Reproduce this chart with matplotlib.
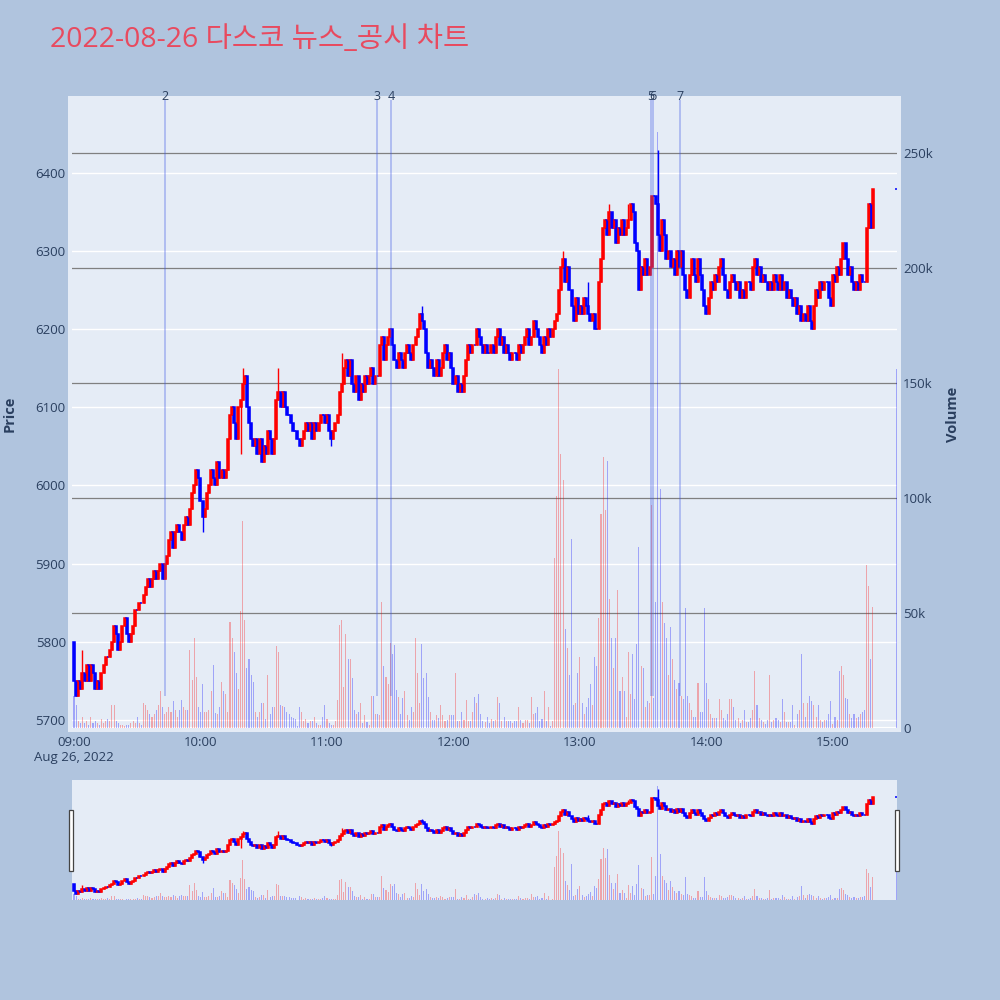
import matplotlib
matplotlib.use('Agg')
import matplotlib.pyplot as plt
from matplotlib.patches import Rectangle
from matplotlib.transforms import blended_transform_factory

plt.rcParams['font.family'] = ['Open Sans', 'Noto Sans CJK KR', 'DejaVu Sans']

title = '2022-08-26 다스코 뉴스_공시 차트'

# 1-minute closes from 09:00 to 15:19, ten minutes per row
first_open = 5800
close_rows = [
    [5750, 5730, 5750, 5740, 5760, 5750, 5770, 5750, 5770, 5760],
    [5740, 5750, 5740, 5760, 5770, 5780, 5780, 5790, 5800, 5820],
    [5810, 5790, 5800, 5820, 5830, 5810, 5800, 5810, 5820, 5840],
    [5840, 5850, 5850, 5860, 5870, 5880, 5870, 5880, 5890, 5880],
    [5890, 5900, 5880, 5900, 5910, 5930, 5940, 5920, 5940, 5950],
    [5940, 5930, 5950, 5960, 5950, 5970, 5990, 6000, 6020, 6010],
    [5980, 5960, 5970, 5990, 6000, 6020, 6010, 6000, 6030, 6010],
    [6020, 6010, 6020, 6060, 6090, 6100, 6080, 6060, 6100, 6110],
    [6130, 6140, 6100, 6080, 6060, 6050, 6060, 6040, 6060, 6030],
    [6050, 6040, 6070, 6060, 6040, 6060, 6110, 6120, 6100, 6120],
    [6100, 6090, 6090, 6080, 6070, 6070, 6060, 6050, 6060, 6070],
    [6080, 6070, 6080, 6060, 6080, 6070, 6080, 6090, 6090, 6080],
    [6090, 6070, 6060, 6070, 6080, 6090, 6120, 6130, 6150, 6160],
    [6140, 6160, 6130, 6120, 6140, 6110, 6130, 6120, 6140, 6130],
    [6140, 6150, 6130, 6140, 6140, 6180, 6190, 6160, 6180, 6190],
    [6200, 6180, 6160, 6150, 6170, 6160, 6150, 6170, 6180, 6170],
    [6160, 6180, 6190, 6200, 6220, 6210, 6200, 6170, 6150, 6160],
    [6150, 6140, 6160, 6140, 6150, 6170, 6180, 6160, 6170, 6150],
    [6130, 6140, 6120, 6130, 6120, 6140, 6160, 6180, 6170, 6180],
    [6180, 6200, 6190, 6180, 6170, 6180, 6170, 6170, 6180, 6170],
    [6190, 6200, 6180, 6190, 6170, 6180, 6170, 6160, 6170, 6170],
    [6160, 6180, 6170, 6180, 6190, 6200, 6180, 6190, 6210, 6200],
    [6190, 6180, 6170, 6190, 6180, 6200, 6190, 6200, 6210, 6220],
    [6250, 6280, 6290, 6260, 6280, 6250, 6230, 6210, 6240, 6220],
    [6230, 6220, 6240, 6230, 6220, 6210, 6220, 6200, 6200, 6260],
    [6290, 6330, 6340, 6320, 6350, 6330, 6340, 6310, 6330, 6320],
    [6340, 6320, 6330, 6340, 6360, 6350, 6310, 6300, 6250, 6280],
    [6270, 6290, 6270, 6280, 6370, 6370, 6360, 6320, 6300, 6340],
    [6320, 6290, 6300, 6280, 6290, 6270, 6300, 6280, 6300, 6270],
    [6250, 6240, 6270, 6290, 6270, 6260, 6290, 6270, 6250, 6230],
    [6220, 6240, 6260, 6250, 6270, 6260, 6280, 6290, 6270, 6250],
    [6240, 6260, 6270, 6260, 6250, 6260, 6240, 6250, 6240, 6260],
    [6260, 6250, 6280, 6290, 6270, 6280, 6260, 6270, 6260, 6250],
    [6260, 6250, 6270, 6260, 6250, 6270, 6250, 6260, 6240, 6250],
    [6240, 6230, 6240, 6220, 6230, 6210, 6220, 6210, 6230, 6210],
    [6200, 6230, 6250, 6240, 6260, 6250, 6260, 6260, 6240, 6230],
    [6270, 6260, 6280, 6270, 6290, 6310, 6290, 6270, 6280, 6260],
    [6250, 6260, 6250, 6270, 6260, 6260, 6330, 6360, 6330, 6380],
]

# volume in thousands, same layout
volume_rows = [
    [14, 10, 3, 2, 5, 2, 3, 1.5, 5, 2],
    [3, 2, 1.5, 4, 2, 3, 4, 3, 10, 10],
    [3, 2, 1.5, 1.5, 1, 1.5, 1.5, 2, 3, 2],
    [5, 2, 1.5, 11, 10, 8, 6, 5, 6, 8],
    [10, 16, 9, 6, 7, 9, 7, 11.6, 8, 5],
    [8, 12, 9, 8, 8, 34, 21, 39, 22, 9],
    [7, 19, 7, 7, 8, 16, 27.5, 6.5, 6, 9],
    [20, 16, 15, 7, 46, 39, 33, 24, 17, 51],
    [90, 47, 26, 30, 23, 20, 7, 5, 7, 11],
    [11, 4, 23, 6, 9, 9, 35.5, 33, 10, 9.5],
    [9, 7, 6, 5, 4.5, 4, 1, 9, 7, 3],
    [4, 2, 3, 3, 5, 2, 1.5, 1.5, 5, 10],
    [4, 2, 1.5, 1.5, 3, 12, 45, 47, 18, 41],
    [30, 30, 21.6, 8, 6, 7, 11, 2, 5.8, 2.8],
    [1.3, 14, 14, 6, 6, 5.7, 55, 27, 22, 19],
    [37, 32, 36, 16.5, 13.6, 6, 13, 16, 5.6, 3.5],
    [9, 7, 39, 24, 11, 36.5, 21.6, 24, 13.6, 7],
    [3.5, 3.5, 5.8, 4.3, 10, 5.8, 2.9, 3.5, 5.8, 5.8],
    [5.8, 24, 3, 2.9, 7, 3.5, 12, 2.9, 3, 7],
    [13.6, 10.8, 15, 6, 3, 2.8, 5, 2, 4, 2.9],
    [3.5, 13.6, 11, 3, 5, 3, 3, 3, 2, 3],
    [3, 9, 3.5, 2, 3.5, 3.5, 2, 13.5, 6, 6.5],
    [9, 3, 4, 16, 3, 9, 1, 3, 74, 101],
    [156, 119, 108, 43, 35, 23, 82, 10, 11, 24],
    [31, 11, 6, 9, 13, 19, 10, 31, 27, 48],
    [93, 118, 95, 116, 56, 39, 26, 39, 60, 16],
    [22, 16, 5, 33, 15, 32, 12.5, 36.6, 78.6, 26.8],
    [26, 9, 11.6, 10.7, 97, 13, 55, 259, 104, 55],
    [45.5, 39, 23, 43.8, 30, 21, 17, 19.6, 14, 12.5],
    [52, 14, 10.7, 8, 5, 5, 19.6, 7, 7, 52],
    [19.6, 12.5, 6, 4.5, 4.5, 4.5, 12.5, 8, 4.5, 3.5],
    [6, 12.5, 12.5, 9, 3.5, 4.5, 2, 3.5, 8, 2.7],
    [2.7, 4.5, 8, 25, 9.8, 4.5, 3.5, 2.7, 1.8, 3.5],
    [23, 2.7, 3.5, 4.5, 3.5, 2.7, 12.5, 7, 2.7, 2.7],
    [2.7, 10, 1.5, 6, 8, 32, 10.7, 5, 10.7, 14],
    [11.6, 9.8, 5, 9.8, 3.5, 2.7, 3.5, 3.5, 6, 11.6],
    [1.8, 5, 3.5, 25, 26.8, 23, 13, 12.5, 6, 4.5],
    [6, 4.5, 5, 6, 7, 8, 71, 61.6, 30, 52.7],
]

# closing auction at 15:30
auction_minute = 390
auction_close = 6380
auction_volume = 156

# wicks that stick out of the bodies
wick_high = {4: 5790, 80: 6150, 97: 6150, 127: 6170, 165: 6230, 232: 6300,
             244: 6260, 254: 6360, 263: 6360, 277: 6430}
wick_low = {61: 5940, 79: 6040, 122: 6050}

news_minutes = [43.0, 143.6, 150.4, 273.6, 274.5, 287.5]
news_labels = ['2', '3', '4', '5', '6', '7']

xtick_minutes = [0, 60, 120, 180, 240, 300, 360]
xtick_labels = ['09:00', '10:00', '11:00', '12:00', '13:00', '14:00', '15:00']
price_ticks = [5700, 5800, 5900, 6000, 6100, 6200, 6300, 6400]
vol_ticks = [0, 50000, 100000, 150000, 200000, 250000]
vol_labels = ['0', '50k', '100k', '150k', '200k', '250k']

closes = [c for row in close_rows for c in row] + [auction_close]
volumes = [v * 1000 for row in volume_rows for v in row] + [auction_volume * 1000]
minutes = list(range(len(closes) - 1)) + [auction_minute]
opens = [first_open] + closes[:-1]
highs = [max(o, c, wick_high.get(m, 0)) for m, o, c in zip(minutes, opens, closes)]
lows = [min(o, c, wick_low.get(m, 99999)) for m, o, c in zip(minutes, opens, closes)]
up = [c > o for o, c in zip(opens, closes)]

RED, BLUE = '#ff0000', '#0000ff'
TXT = '#2a3f5f'
PLOT_BG = '#e5ecf6'
xlim = (-0.95, 390.4)
plim = (5689.6, 6493.4)
vlim = (0, 273100)


def draw(axv, axp):
    vcol = [(1, 0, 0, 0.3) if u else (0, 0, 1, 0.3) for u in up]
    axv.bar(minutes, volumes, width=0.5, color=vcol, linewidth=0)
    ccol = [RED if u else BLUE for u in up]
    axp.vlines(minutes, lows, highs, colors=ccol, linewidth=1.0)
    axp.bar(minutes, [c - o for o, c in zip(opens, closes)], bottom=opens,
            width=0.95, color=ccol, edgecolor=ccol, linewidth=1.1)
    axv.set_xlim(*xlim)
    axv.set_ylim(*vlim)
    axp.set_ylim(*plim)
    for a in (axv, axp):
        for s in a.spines.values():
            s.set_visible(False)


fig = plt.figure(figsize=(10, 10), dpi=100, facecolor='#b0c4de')
fig.patches.append(Rectangle((0.068, 0.268), 0.833, 0.636, transform=fig.transFigure,
                             facecolor=PLOT_BG, edgecolor='none', zorder=-1))

axv = fig.add_axes([0.072, 0.272, 0.825, 0.628], facecolor=PLOT_BG)
axp = axv.twinx()
draw(axv, axp)

# grid: white for price, gray for volume, all under the marks
bt = blended_transform_factory(axv.transAxes, axp.transData)
for p in price_ticks:
    axv.plot([0, 1], [p, p], transform=bt, color='white', lw=1, zorder=0.5)
for v in vol_ticks[1:]:
    axv.axhline(v, color='#808080', lw=0.9, zorder=0.6)
axv.axhline(0, color='white', lw=1.6, zorder=0.6)

axp.yaxis.tick_left()
axv.yaxis.tick_right()
axp.set_yticks(price_ticks)
axp.set_yticklabels([str(p) for p in price_ticks])
axv.set_yticks(vol_ticks)
axv.set_yticklabels(vol_labels)
axp.tick_params(axis='y', length=0, pad=4.5, labelsize=9.5, labelcolor=TXT)
axv.tick_params(axis='y', length=0, pad=4.5, labelsize=9.5, labelcolor=TXT)
axv.set_xticks(xtick_minutes)
axv.set_xticklabels(xtick_labels)
axv.tick_params(axis='x', length=0, pad=6, labelsize=9.5, labelcolor=TXT)

# news markers
low_min = min(lows)
tb = blended_transform_factory(axp.transData, axp.transAxes)
for m, lab in zip(news_minutes, news_labels):
    axp.vlines(m, low_min, plim[1], colors=[(0.25, 0.35, 0.9, 0.35)], linewidth=1.3)
    axp.text(m, 1.005, lab, transform=tb, ha='center', va='center',
             fontsize=9, color=TXT, clip_on=False)

fig.text(0.074, 1 - 0.758, 'Aug 26, 2022', ha='center', va='center', fontsize=9.5, color=TXT)
fig.text(0.010, 1 - 0.414, 'Price', rotation=90, ha='center', va='center',
         fontsize=10.5, fontweight='bold', color=TXT)
fig.text(0.953, 1 - 0.414, 'Volume', rotation=90, ha='center', va='center',
         fontsize=10.5, fontweight='bold', color=TXT)
fig.text(0.050, 1 - 0.040, title, ha='left', va='center', fontsize=20.5, color='#e84a5f')

# range slider
sv = fig.add_axes([0.072, 0.100, 0.825, 0.120], facecolor=PLOT_BG)
sp = sv.twinx()
draw(sv, sp)
for a in (sv, sp):
    a.set_xticks([])
    a.set_yticks([])
for hx in (0.069, 0.895):
    fig.patches.append(Rectangle((hx, 0.129), 0.004, 0.061, transform=fig.transFigure,
                                 facecolor='white', edgecolor='#444444', lw=0.9, zorder=5))

fig.savefig('out.png', dpi=100, facecolor=fig.get_facecolor())
